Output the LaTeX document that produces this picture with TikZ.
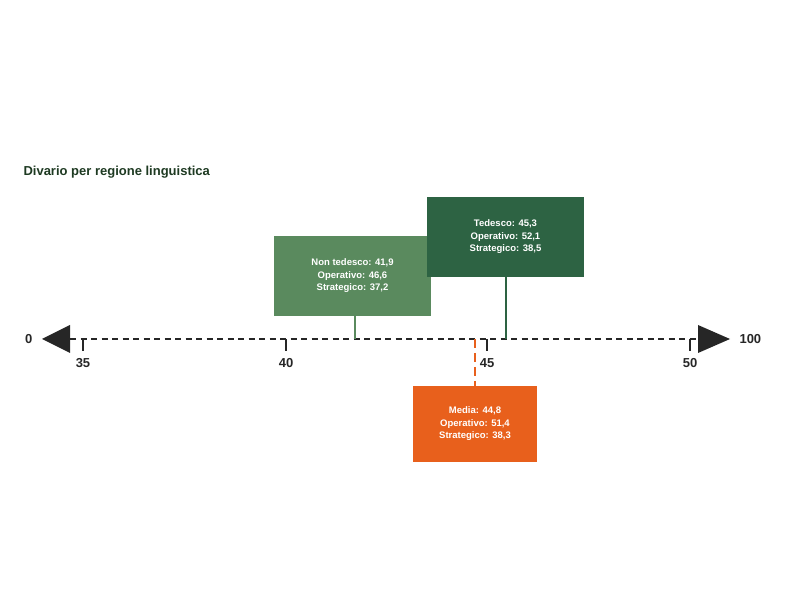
\documentclass[tikz,border=0pt]{standalone}
\usepackage{fontspec}
\setmainfont{Liberation Sans}
\usepackage{tikz}
\usetikzlibrary{positioning}
\definecolor{lightgr}{HTML}{5A8A5E}
\definecolor{darkgr}{HTML}{2D6343}
\definecolor{orng}{HTML}{E8601C}
\definecolor{titlegr}{HTML}{1E3A22}
\tikzset{
  box/.style={text=white,font=\fontsize{9.5}{12.5}\selectfont\bfseries,align=center,
    minimum width=157pt,minimum height=80pt,inner sep=0pt},
  tick/.style={line width=1.6pt},
  num/.style={font=\fontsize{13}{13}\selectfont\bfseries,text=black!85},
}
\begin{document}
\begin{tikzpicture}[x=1pt,y=-1pt]
    \useasboundingbox (0,0) rectangle (790,593);

    \node[anchor=west,font=\fontsize{13}{13}\selectfont\bfseries,text=titlegr] (title) at (20,172) {Divario per regione linguistica};

    % axis
    \coordinate (left) at (70,339);
    \coordinate (right) at (698,339);
    \draw[line width=1.6pt,dash pattern=on 6pt off 4.5pt,black!85] (left) -- (right);
    \fill[black!85] (42,339) -- (70,325) -- (70,353) -- cycle;
    \fill[black!85] (730,339) -- (698,325) -- (698,353) -- cycle;
    \node[num,anchor=east] (zero) at (36,339) {0};
    \node[num,anchor=west] (hundred) at (736,339) {100};

    \foreach \xx/\lab in {83/35,286/40,487/45,690/50}
        { \draw[tick,black!85] (\xx,339) -- (\xx,351);
          \node[num] (t\lab) at (\xx,363) {\lab}; }

    % boxes
    \node[box,fill=lightgr] (nontedesco) at (352.5,276) {Non tedesco: 41,9\\Operativo: 46,6\\Strategico: 37,2};
    \node[box,fill=darkgr] (tedesco) at (505.5,237) {Tedesco: 45,3\\Operativo: 52,1\\Strategico: 38,5};
    \node[box,fill=orng,minimum width=124pt,minimum height=76pt] (media) at (475,424) {Media: 44,8\\Operativo: 51,4\\Strategico: 38,3};

    % stems
    \coordinate (pnt) at (355,339);
    \coordinate (pt) at (506,339);
    \coordinate (pm) at (475,339);
    \draw[line width=2.5pt,lightgr] (pnt) -- (pnt |- nontedesco.south);
    \draw[line width=2.5pt,darkgr] (pt) -- (pt |- tedesco.south);
    \draw[line width=2.5pt,orng,dash pattern=on 9pt off 5pt] (pm) -- (pm |- media.north);
\end{tikzpicture}
\end{document}
